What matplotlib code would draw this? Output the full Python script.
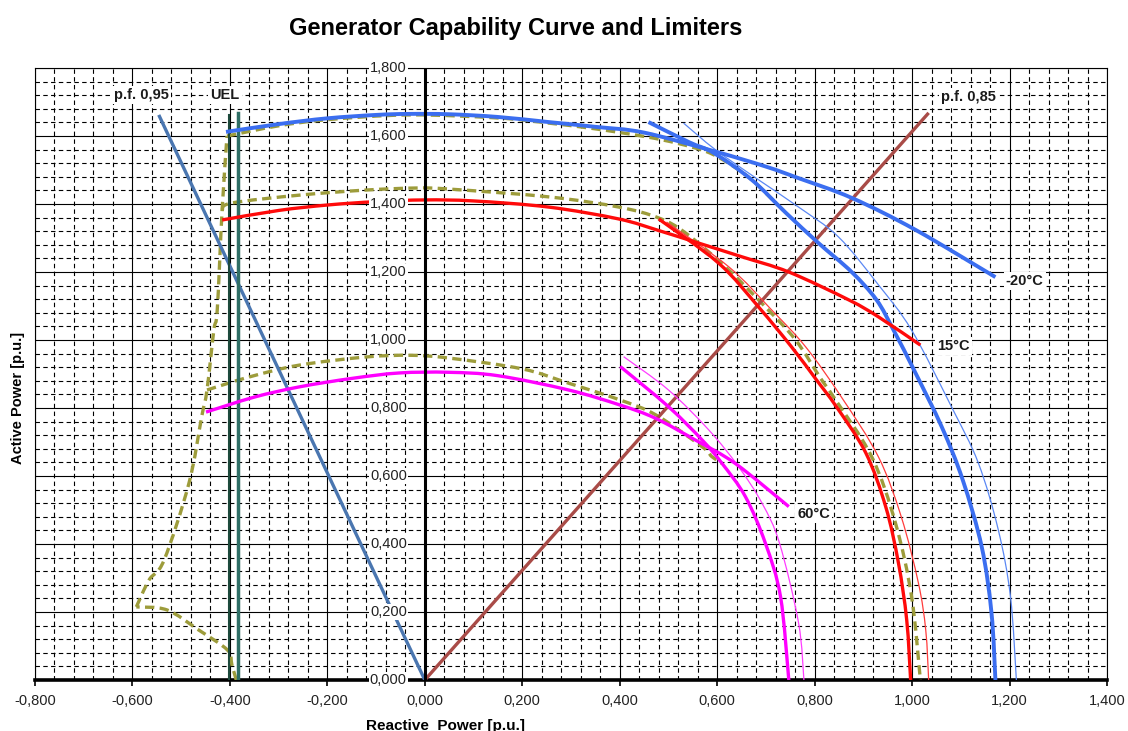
import matplotlib
matplotlib.use("Agg")
import numpy as np
import matplotlib.pyplot as plt
from matplotlib.path import Path
from matplotlib.patches import PathPatch
from matplotlib.ticker import MultipleLocator, FuncFormatter

plt.rcParams['font.family'] = ['Liberation Sans', 'DejaVu Sans']

# reactive power Q (x) / active power P (y), p.u.

# -20 degC: rotor (field) limit and stator limits
blue_field_q = [-0.408, -0.30, -0.20, -0.10, -0.033, 0.05, 0.15, 0.254, 0.35, 0.45, 0.597, 0.70, 0.767, 0.876, 1.007, 1.171]
blue_field_p = [1.612, 1.635, 1.652, 1.662, 1.665, 1.664, 1.656, 1.641, 1.627, 1.610, 1.554, 1.510, 1.476, 1.418, 1.324, 1.185]
blue_stator_q = [0.459, 0.542, 0.593, 0.671, 0.741, 0.808, 0.876, 0.927, 0.962, 1.007, 1.061, 1.104, 1.143, 1.163, 1.171]
blue_stator_p = [1.641, 1.582, 1.550, 1.471, 1.374, 1.285, 1.200, 1.118, 1.029, 0.903, 0.744, 0.588, 0.391, 0.197, 0.0]
blue_thin_q = [0.531, 0.597, 0.685, 0.767, 0.849, 0.931, 0.999, 1.081, 1.136, 1.177, 1.202, 1.214]
blue_thin_p = [1.638, 1.559, 1.471, 1.391, 1.303, 1.162, 1.029, 0.803, 0.638, 0.441, 0.244, 0.0]

# 15 degC
red_field_q = [-0.416, -0.30, -0.20, -0.10, 0.0, 0.10, 0.254, 0.398, 0.48, 0.562, 0.65, 0.747, 0.870, 0.931, 1.017]
red_field_p = [1.353, 1.381, 1.397, 1.407, 1.412, 1.409, 1.391, 1.356, 1.322, 1.285, 1.245, 1.200, 1.118, 1.068, 0.985]
red_stator_q = [0.480, 0.603, 0.685, 0.753, 0.802, 0.845, 0.905, 0.946, 0.972, 0.989, 0.997]
red_stator_p = [1.356, 1.226, 1.097, 0.979, 0.886, 0.803, 0.668, 0.509, 0.344, 0.176, 0.0]
red_thin_q = [0.496, 0.624, 0.712, 0.782, 0.855, 0.931, 0.978, 1.013, 1.028, 1.034]
red_thin_p = [1.347, 1.215, 1.088, 0.979, 0.832, 0.656, 0.479, 0.285, 0.147, 0.0]

# 60 degC
mag_field_q = [-0.449, -0.35, -0.258, -0.15, -0.053, 0.049, 0.15, 0.295, 0.40, 0.473, 0.555, 0.637, 0.747]
mag_field_p = [0.788, 0.832, 0.862, 0.887, 0.903, 0.905, 0.895, 0.853, 0.809, 0.770, 0.706, 0.637, 0.510]
mag_stator_q = [0.401, 0.500, 0.569, 0.610, 0.658, 0.699, 0.730, 0.747]
mag_stator_p = [0.922, 0.804, 0.706, 0.637, 0.539, 0.402, 0.245, 0.0]
mag_thin_q = [0.408, 0.500, 0.583, 0.644, 0.692, 0.728, 0.767, 0.778]
mag_thin_p = [0.951, 0.853, 0.735, 0.627, 0.520, 0.402, 0.168, 0.0]

# under-excitation curve (bottom leg, then upper leg) and combined capability curves
uel_low_q = [-0.387, -0.396, -0.405, -0.464, -0.529, -0.592]
uel_low_p = [0.0, 0.045, 0.088, 0.147, 0.206, 0.215]
uel_up_q = [-0.592, -0.566, -0.535, -0.484, -0.458, -0.447, -0.433, -0.426, -0.416, -0.406]
uel_up_p = [0.215, 0.294, 0.353, 0.579, 0.774, 0.853, 1.029, 1.088, 1.382, 1.600]
comb_cold_q = [-0.406, -0.30, -0.20, -0.033, 0.15, 0.254, 0.35, 0.453, 0.52, 0.58, 0.624, 0.671, 0.741]
comb_cold_p = [1.600, 1.630, 1.648, 1.662, 1.653, 1.638, 1.621, 1.598, 1.578, 1.553, 1.519, 1.471, 1.374]
comb_mid_q = [-0.416, -0.396, -0.258, -0.121, -0.018, 0.049, 0.254, 0.398, 0.48, 0.535, 0.617, 0.699, 0.761, 0.811, 0.840, 0.917, 0.966, 0.999, 1.017]
comb_mid_p = [1.382, 1.403, 1.426, 1.441, 1.447, 1.444, 1.421, 1.391, 1.359, 1.315, 1.215, 1.097, 1.0, 0.890, 0.830, 0.657, 0.461, 0.245, 0.0]
comb_hot_q = [-0.447, -0.361, -0.258, -0.121, -0.03, 0.049, 0.20, 0.295, 0.40, 0.475, 0.569, 0.589, 0.610]
comb_hot_p = [0.853, 0.891, 0.926, 0.950, 0.955, 0.947, 0.915, 0.873, 0.824, 0.779, 0.686, 0.657, 0.637]

# power factor lines and UEL setpoints
pf095_q = [0.0, -0.546]
pf095_p = [0.0, 1.662]
pf085_q = [0.0, 1.034]
pf085_p = [0.0, 1.668]
uel1_q = [-0.401, -0.401]
uel1_p = [0.0, 1.662]
uel2_q = [-0.383, -0.383]
uel2_p = [0.0, 1.668]

yticks = [0.0, 0.2, 0.4, 0.6, 0.8, 1.0, 1.2, 1.4, 1.6, 1.8]


def comma(v, pos=None):
    return f"{v:.3f}".replace('.', ',')


def smooth_line(ax, q, p, **kw):
    # smoothed line through the points (cubic Bezier segments, like a spreadsheet "smooth line")
    pts = np.column_stack([q, p])
    n = len(pts)
    verts = [pts[0]]
    codes = [Path.MOVETO]
    for i in range(n - 1):
        p0 = pts[max(i - 1, 0)]
        p1 = pts[i]
        p2 = pts[i + 1]
        p3 = pts[min(i + 2, n - 1)]
        verts += [p1 + (p2 - p0) / 6, p2 - (p3 - p1) / 6, p2]
        codes += [Path.CURVE4] * 3
    ax.add_patch(PathPatch(Path(verts, codes), fill=False, capstyle='butt', joinstyle='round', **kw))


fig = plt.figure(figsize=(11.28, 7.31), dpi=100)
ax = fig.add_axes([35 / 1128, 1 - 680 / 731, 1072 / 1128, 612 / 731])
ax.set_xlim(-0.8, 1.4)
ax.set_ylim(0, 1.8)

ax.xaxis.set_major_locator(MultipleLocator(0.2))
ax.xaxis.set_minor_locator(MultipleLocator(0.04))
ax.yaxis.set_major_locator(MultipleLocator(0.2))
ax.yaxis.set_minor_locator(MultipleLocator(0.04))
ax.set_axisbelow(True)
ax.grid(which='major', color='black', lw=0.8, ls='-')
ax.grid(which='minor', color='black', lw=0.8, ls=(0, (4, 3)))

for s in ['left', 'top', 'right']:
    ax.spines[s].set_linewidth(0.8)
ax.spines['bottom'].set_linewidth(2.6)
ax.xaxis.set_major_formatter(FuncFormatter(comma))
ax.tick_params(axis='x', which='major', direction='out', length=4, width=1.2,
               labelsize=10.5, pad=6, labelcolor='#222222')
ax.tick_params(axis='x', which='minor', length=0)
ax.tick_params(axis='y', which='both', left=False, labelleft=False)

# y axis drawn at Q = 0
ax.axvline(0, color='black', lw=2.2, zorder=6)
for v in yticks:
    ax.text(-0.037, v, comma(v), ha='right', va='center', fontsize=10.5, color='#222222',
            bbox=dict(facecolor='white', edgecolor='none', pad=0.5), zorder=7, clip_on=False)

# dashed capability curves
olive = '#9d9c3b'
dash = (0, (2.8, 1.6))
for q, p in [(uel_low_q, uel_low_p), (uel_up_q, uel_up_p), (comb_cold_q, comb_cold_p),
             (comb_mid_q, comb_mid_p), (comb_hot_q, comb_hot_p)]:
    smooth_line(ax, q, p, edgecolor=olive, lw=2.4, ls=dash, zorder=3)

# power factor lines
ax.plot(pf095_q, pf095_p, color='#4a76b0', lw=2.4, zorder=3.5, solid_capstyle='butt')
ax.plot(pf085_q, pf085_p, color='#a94b47', lw=2.4, zorder=3.5, solid_capstyle='butt')

# UEL setpoints
ax.plot(uel1_q, uel1_p, color='#1d4a3c', lw=1.5, zorder=4)
ax.plot(uel2_q, uel2_p, color='#2f6e65', lw=2.5, zorder=4)

# temperature dependent limits
smooth_line(ax, blue_thin_q, blue_thin_p, edgecolor='#5b88f4', lw=0.9, zorder=4)
smooth_line(ax, red_thin_q, red_thin_p, edgecolor='#ff3c3c', lw=0.9, zorder=4)
smooth_line(ax, mag_thin_q, mag_thin_p, edgecolor='#ff3cff', lw=0.9, zorder=4)
smooth_line(ax, blue_field_q, blue_field_p, edgecolor='#3b6ef0', lw=2.8, zorder=5)
smooth_line(ax, blue_stator_q, blue_stator_p, edgecolor='#3b6ef0', lw=2.8, zorder=5)
smooth_line(ax, red_field_q, red_field_p, edgecolor='#ff0a0a', lw=2.4, zorder=5)
smooth_line(ax, red_stator_q, red_stator_p, edgecolor='#ff0a0a', lw=2.4, zorder=5)
smooth_line(ax, mag_field_q, mag_field_p, edgecolor='#ff00ff', lw=2.4, zorder=5)
smooth_line(ax, mag_stator_q, mag_stator_p, edgecolor='#ff00ff', lw=2.4, zorder=5)

lbl = dict(fontsize=10.5, fontweight='bold', color='#1a1a1a', ha='center', va='center', zorder=8,
           bbox=dict(facecolor='white', edgecolor='none', pad=1.5))
ax.text(-0.581, 1.721, 'p.f. 0,95', **lbl)
ax.text(-0.410, 1.721, 'UEL', **lbl)
ax.text(1.116, 1.715, 'p.f. 0,85', **lbl)
ax.text(1.231, 1.174, '-20°C', **lbl)
ax.text(1.085, 0.982, '15°C', **lbl)
ax.text(0.798, 0.488, '60°C', **lbl)

fig.text(516 / 1128, 1 - 28 / 731, 'Generator Capability Curve and Limiters',
         ha='center', va='center', fontsize=17, fontweight='bold')
fig.text(445 / 1128, 1 - 726 / 731, 'Reactive  Power [p.u.]',
         ha='center', va='center', fontsize=11, fontweight='bold')
fig.text(18 / 1128, 1 - 398 / 731, 'Active Power [p.u.]', rotation=90,
         ha='center', va='center', fontsize=10.5, fontweight='bold')

fig.savefig('out.png', dpi=100)
